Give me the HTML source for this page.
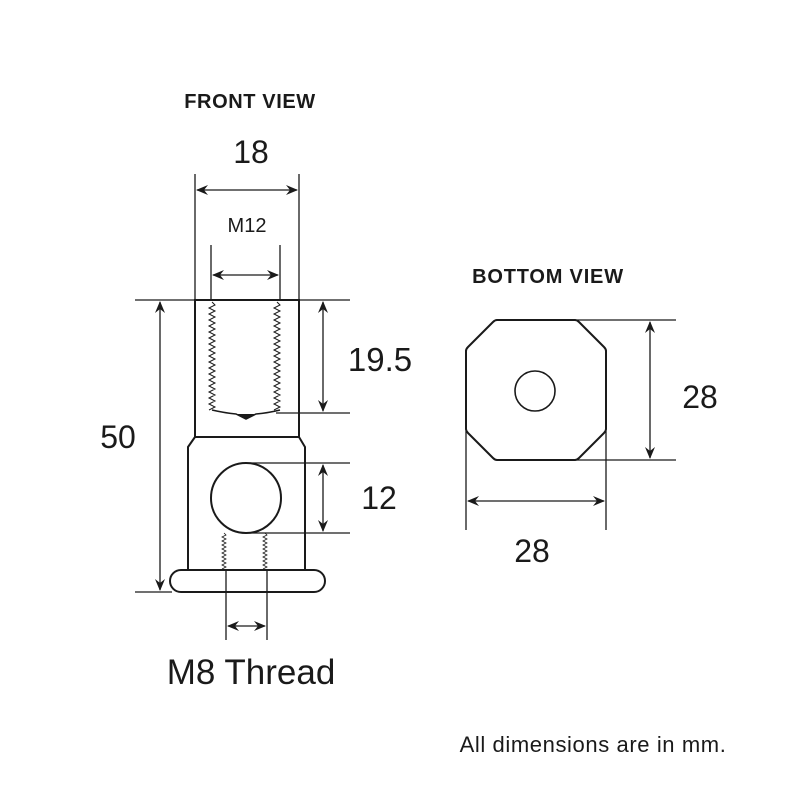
<!DOCTYPE html>
<html><head><meta charset="utf-8"><style>
html,body{margin:0;padding:0;background:#fff}
svg{display:block}
text{font-family:"Liberation Sans",Arial,sans-serif;fill:#1a1a1a}
</style></head><body>
<svg width="800" height="800" viewBox="0 0 800 800" xmlns="http://www.w3.org/2000/svg">
<defs>
<marker id="a" viewBox="0 0 12 10" refX="11" refY="5" markerWidth="12" markerHeight="10" markerUnits="userSpaceOnUse" orient="auto-start-reverse">
<path d="M0,0 L12,5 L0,10 L4,5 Z" fill="#1a1a1a"/>
</marker>
</defs>
<g stroke="#1a1a1a" fill="none" stroke-width="1.3">
<line x1="195" y1="174" x2="195" y2="300"/>
<line x1="299" y1="174" x2="299" y2="300"/>
<line x1="197" y1="190" x2="297" y2="190" marker-start="url(#a)" marker-end="url(#a)"/>
<line x1="211" y1="245" x2="211" y2="300"/>
<line x1="280" y1="245" x2="280" y2="300"/>
<line x1="213" y1="275" x2="278" y2="275" marker-start="url(#a)" marker-end="url(#a)"/>
<line x1="135" y1="300" x2="350" y2="300"/>
<line x1="135" y1="592" x2="172" y2="592"/>
<line x1="160" y1="302" x2="160" y2="590" marker-start="url(#a)" marker-end="url(#a)"/>
<line x1="276" y1="413" x2="350" y2="413"/>
<line x1="323" y1="302" x2="323" y2="411" marker-start="url(#a)" marker-end="url(#a)"/>
<line x1="246" y1="463" x2="350" y2="463"/>
<line x1="246" y1="533" x2="350" y2="533"/>
<line x1="323" y1="465" x2="323" y2="531" marker-start="url(#a)" marker-end="url(#a)"/>
<g stroke-width="2">
<path d="M195,300 L299,300 L299,437 L195,437 Z"/>
<path d="M195,437 L188,447 L188,570 M299,437 L305,447 L305,570"/>
<rect x="170" y="570" width="155" height="22" rx="11"/>
<circle cx="246" cy="498" r="35"/>
<path d="M212,410 Q225,413 236,414 L246,419 L256,414 Q268,413 280,410" stroke-width="1.5"/>
<polygon points="236,414 246,419 256,414" fill="#1a1a1a" stroke="none"/>
</g>
<path id="t1" stroke-width="1" d=""/>
<path id="t2" stroke-width="1" d=""/>
<path id="t3" stroke-width="0.8" d=""/>
<path id="t4" stroke-width="0.8" d=""/>
<line x1="226" y1="570" x2="226" y2="640"/>
<line x1="267" y1="570" x2="267" y2="640"/>
<line x1="228" y1="626" x2="265" y2="626" marker-start="url(#a)" marker-end="url(#a)"/>
<path d="M497,320 L575,320 Q577,320 579,322 L604,347 Q606,349 606,351 L606,429 Q606,431 604,433 L579,458 Q577,460 575,460 L497,460 Q495,460 493,458 L468,433 Q466,431 466,429 L466,351 Q466,349 468,347 L493,322 Q495,320 497,320 Z" stroke-width="2"/>
<circle cx="535" cy="391" r="20" stroke-width="1.6"/>
<line x1="577" y1="320" x2="676" y2="320"/>
<line x1="577" y1="460" x2="676" y2="460"/>
<line x1="650" y1="322" x2="650" y2="458" marker-start="url(#a)" marker-end="url(#a)"/>
<line x1="466" y1="431" x2="466" y2="530"/>
<line x1="606" y1="431" x2="606" y2="530"/>
<line x1="468" y1="501" x2="604" y2="501" marker-start="url(#a)" marker-end="url(#a)"/>
</g>
<text x="250" y="108" font-size="20" font-weight="bold" text-anchor="middle" letter-spacing="0.6">FRONT VIEW</text>
<text x="251" y="163" font-size="32" text-anchor="middle">18</text>
<text x="247" y="232" font-size="20" text-anchor="middle">M12</text>
<text x="380" y="371" font-size="33" text-anchor="middle">19.5</text>
<text x="118" y="448" font-size="32" text-anchor="middle">50</text>
<text x="379" y="509" font-size="32" text-anchor="middle">12</text>
<text x="251" y="684" font-size="35" text-anchor="middle">M8 Thread</text>
<text x="548" y="283" font-size="20" font-weight="bold" text-anchor="middle" letter-spacing="0.8">BOTTOM VIEW</text>
<text x="700" y="408" font-size="32" text-anchor="middle">28</text>
<text x="532" y="562" font-size="32" text-anchor="middle">28</text>
<text x="593" y="752" font-size="22" text-anchor="middle" letter-spacing="0.6">All dimensions are in mm.</text>
</svg>
<script>
function zz(id,x,y0,y1,amp,per){var d="M"+x+","+y0,s=1;for(var y=y0+per/2;y<=y1;y+=per/2){d+=" L"+(x+s*amp)+","+y;s=-s;}document.getElementById(id).setAttribute("d",d);}
zz("t1",212,302,410,3,6);zz("t2",277,302,410,3,6);zz("t3",224,533,570,2,4);zz("t4",265,533,570,2,4);
</script>
</body></html>
